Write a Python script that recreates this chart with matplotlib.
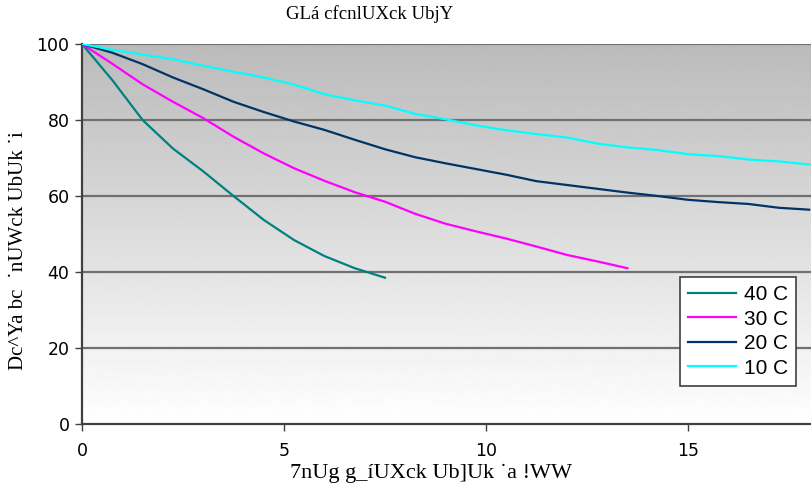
#!/usr/bin/env python3
"""Decay curves at four temperatures, Excel-style gradient chart."""

import numpy as np
import matplotlib.pyplot as plt

# Data (x spacing of 0.75)
x_40 = [0, 0.75, 1.5, 2.25, 3, 3.75, 4.5, 5.25, 6, 6.75, 7.5]
y_40 = [100, 90.5, 80, 72.5, 66.5, 60, 53.7, 48.4, 44.2, 41, 38.5]

x_30 = [0, 0.75, 1.5, 2.25, 3, 3.75, 4.5, 5.25, 6, 6.75, 7.5, 8.25, 9,
        9.75, 10.5, 11.25, 12, 12.75, 13.5]
y_30 = [100, 94.8, 89.4, 84.8, 80.5, 75.6, 71.2, 67.3, 64, 61, 58.5, 55.3,
        52.7, 50.7, 48.8, 46.7, 44.5, 42.8, 41]

x_20 = [0, 0.75, 1.5, 2.25, 3, 3.75, 4.5, 5.25, 6, 6.75, 7.5, 8.25, 9,
        9.75, 10.5, 11.25, 12, 12.75, 13.5, 14.25, 15, 15.75, 16.5, 17.25, 18]
y_20 = [100, 97.7, 94.7, 91.2, 88.1, 84.8, 82.1, 79.6, 77.4, 74.8, 72.3, 70.2,
        68.6, 67.1, 65.6, 63.9, 62.9, 61.9, 60.9, 60.0, 59.0, 58.4, 57.9, 56.9, 56.4]

x_10 = x_20
y_10 = [100, 98.5, 97.2, 96, 94.3, 92.7, 91.2, 89.3, 86.8, 85.2, 83.8, 81.6,
        80.2, 78.6, 77.3, 76.3, 75.4, 73.8, 72.8, 72.1, 71, 70.5, 69.6, 69.1, 68.3]

labels = ['40 C', '30 C', '20 C', '10 C']
colors = ['#008080', '#ff00ff', '#003366', '#00ffff']

title = 'GLá cfcnlUXck UbjY'
xlabel = '7nUg g_íUXck Ub]Uk ˙a !WW'
ylabel = 'Dc^Ya bc  ˙nUWck UbUk ˙i'

fig = plt.figure(figsize=(8.12, 4.86), dpi=100)
ax = fig.add_axes([82 / 812, 1 - 424 / 486, 1 - 82 / 812, (424 - 44) / 486])

# gradient background: grey at top, white at bottom
grad = np.linspace(1.0, 0.73, 256).reshape(-1, 1)
ax.imshow(grad, cmap='gray', vmin=0, vmax=1, aspect='auto', origin='lower',
          extent=[0, 1, 0, 1], transform=ax.transAxes, zorder=0)

for yv in [20, 40, 60, 80, 100]:
    ax.axhline(yv, color='#707070', linewidth=1.6, zorder=1)

for xs, ys, lab, c in zip([x_40, x_30, x_20, x_10], [y_40, y_30, y_20, y_10],
                          labels, colors):
    ax.plot(xs, ys, color=c, linewidth=1.6, label=lab, zorder=3)

ax.set_xlim(0, 18.07)
ax.set_ylim(0, 100)
ax.set_xticks([0, 5, 10, 15])
ax.set_yticks([0, 20, 40, 60, 80, 100])
ax.tick_params(axis='both', labelsize=12.5, length=5, width=1, color='#404040',
               direction='out')
ax.tick_params(axis='x', pad=8)
ax.tick_params(axis='y', pad=4)

for s in ['top', 'right']:
    ax.spines[s].set_visible(False)
for s in ['left', 'bottom']:
    ax.spines[s].set_color('#404040')
    ax.spines[s].set_linewidth(1.6)

fig.text(370 / 812, 1 - 14 / 486, title, ha='center', va='center',
         fontsize=13.5, family='Liberation Serif')
fig.text(431 / 812, 1 - 473 / 486, xlabel, ha='center', va='center',
         fontsize=16, family='Liberation Serif')
fig.text(19 / 812, 1 - 251 / 486, ylabel, ha='center', va='center',
         rotation=90, fontsize=15, family='Liberation Serif')

leg = ax.legend(loc='upper left', bbox_to_anchor=(680 / 812, 1 - 277 / 486),
                bbox_transform=fig.transFigure, fancybox=False,
                edgecolor='#404040', framealpha=1, handlelength=2.3,
                labelspacing=0.26, borderpad=0.4, handletextpad=0.35,
                borderaxespad=0,
                prop={'family': 'Liberation Sans', 'size': 15})
leg.get_frame().set_linewidth(1.2)

plt.savefig('out.png', dpi=100)
